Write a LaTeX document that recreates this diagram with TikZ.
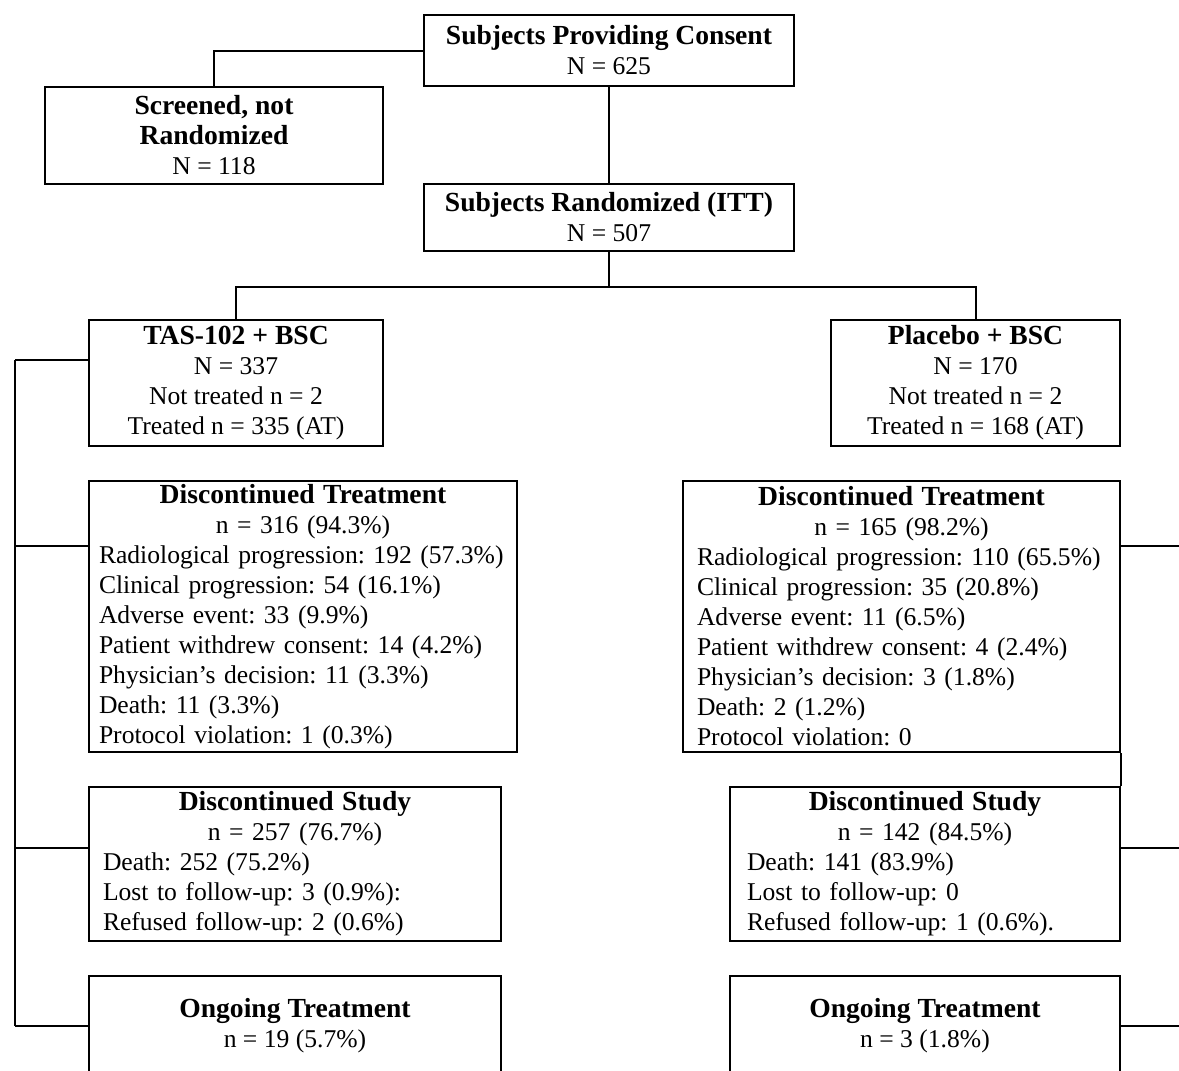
\documentclass[tikz,border=0pt]{standalone}
\usepackage{fontspec}
\setmainfont{Liberation Serif}
\usetikzlibrary{arrows}
\frenchspacing
\newcommand{\hd}[1]{{\fontsize{13.8}{15}\selectfont\bfseries #1}}

\begin{document}
\begin{tikzpicture}[%
        x=0.5pt, y=-0.5pt, line width=1pt,
        every node/.style={draw, line width=1pt, inner sep=0pt, font=\fontsize{12.8}{15}\selectfont},
        cbox/.style={align=center},
        lbox/.style={align=left, text width=#1, inner xsep=7pt}
      ]
      \clip (0,0) rectangle (1179,1071);
      \node [] (0) [cbox, minimum width=185pt, minimum height=35.5pt] at (609,50.5) {\hd{Subjects Providing Consent}\\ N = 625};
      \node [] (1) [cbox, minimum width=169pt, minimum height=48.5pt] at (214,135.5) {\hd{Screened, not}\\ \hd{Randomized}\\ N = 118};
      \node [] (2) [cbox, minimum width=185pt, minimum height=33.5pt] at (609,217.5) {\hd{Subjects Randomized (ITT)}\\ N = 507};
      \node [] (3) [cbox, minimum width=147pt, minimum height=63pt] at (236,383) {\hd{TAS-102 + BSC}\\ N = 337\\ Not treated n = 2\\ Treated n = 335 (AT)};
      \node [] (4) [cbox, minimum width=144.5pt, minimum height=63pt] at (975.5,383) {\hd{Placebo + BSC}\\ N = 170\\ Not treated n = 2\\ Treated n = 168 (AT)};
      \node [] (5) [lbox=204pt, inner xsep=5pt, minimum height=135.5pt] at (303,616.5) {{\centering\hd{Discontinued Treatment}\\ n = 316 (94.3\%)\par}
        \mbox{Radiological progression: 192 (57.3\%)}\\ Clinical progression: 54 (16.1\%)\\ Adverse event: 33 (9.9\%)\\
        Patient withdrew consent: 14 (4.2\%)\\ Physician’s decision: 11 (3.3\%)\\ Death: 11 (3.3\%)\\ Protocol violation: 1 (0.3\%)};
      \node [] (6) [lbox=204.5pt, minimum height=135.5pt] at (901.5,616.5) {{\centering\hd{Discontinued Treatment}\\ n = 165 (98.2\%)\par}
        Radiological progression: 110 (65.5\%)\\ Clinical progression: 35 (20.8\%)\\ Adverse event: 11 (6.5\%)\\
        Patient withdrew consent: 4 (2.4\%)\\ Physician’s decision: 3 (1.8\%)\\ Death: 2 (1.2\%)\\ Protocol violation: 0};
      \node [] (7) [lbox=192pt, minimum height=77pt] at (295,864) {{\centering\hd{Discontinued Study}\\ n = 257 (76.7\%)\par}
        Death: 252 (75.2\%)\\ Lost to follow-up: 3 (0.9\%):\\ Refused follow-up: 2 (0.6\%)};
      \node [] (8) [lbox=178pt, inner xsep=8.5pt, minimum height=77pt] at (925,864) {{\centering\hd{Discontinued Study}\\ n = 142 (84.5\%)\par}
        Death: 141 (83.9\%)\\ Lost to follow-up: 0\\ Refused follow-up: 1 (0.6\%).};
      \node [] (9) [cbox, minimum width=206pt, minimum height=50pt] at (295,1026) {\hd{Ongoing Treatment}\\ n = 19 (5.7\%)};
      \node [] (10) [cbox, minimum width=195pt, minimum height=50pt] at (925,1026) {\hd{Ongoing Treatment}\\ n = 3 (1.8\%)};
      % tree at the top
      \coordinate (s) at (609,287);
      \coordinate (lb) at (15,360);
      \coordinate (re) at (1179,0);
      \path [draw] (0.west) -| (1.north)
      (0) -- (2)
      (2) -- (s)
      (3.north) |- (s) -| (4.north);
      % left arm
      \foreach \n/\dy in {3/11.5pt,5/35.5pt,7/8pt,9/0pt}{
        \coordinate (a\n) at ([yshift=\dy]\n.west);
        \draw (a\n) -- (a\n -| lb);
      }
      \draw (a3 -| lb) -- (a9 -| lb);
      % right arm
      \foreach \n/\dy in {6/35.5pt,8/8pt,10/0pt}{
        \coordinate (b\n) at ([yshift=\dy]\n.east);
        \draw (b\n) -- (b\n -| re);
      }
      \draw (6.south east) -- (8.north east);
    \end{tikzpicture}
\end{document}
